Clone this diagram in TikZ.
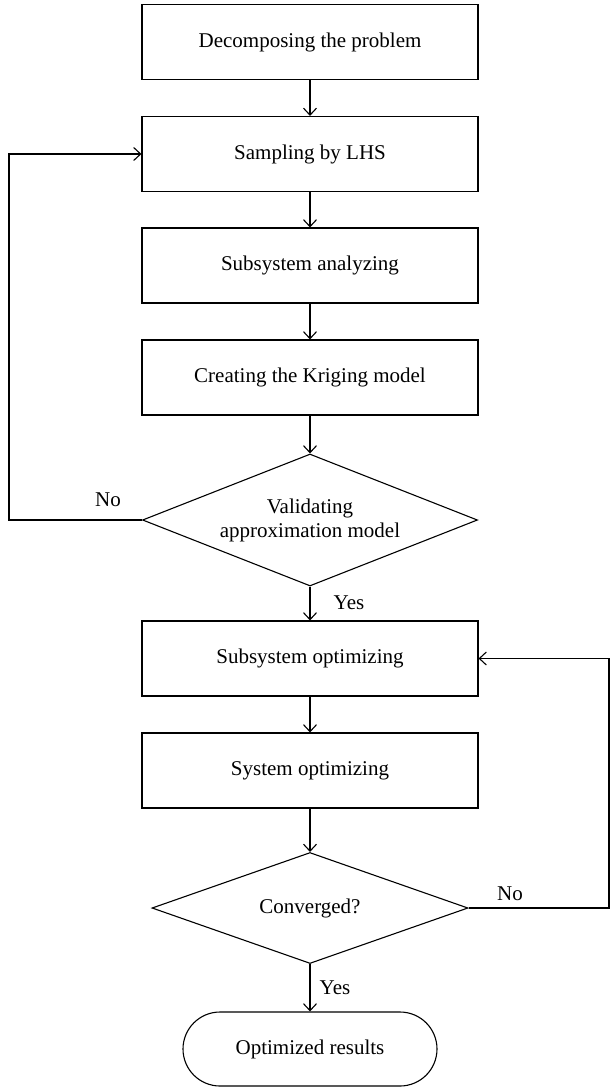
\documentclass[tikz,border=0pt]{standalone}
\usepackage{fontspec}
\setmainfont{Liberation Serif}
\usetikzlibrary{shapes.geometric,shapes.misc,arrows.meta}

\tikzset{
    stepbox/.style={draw, line width=1.1pt, minimum width=336pt, minimum height=75pt, inner sep=0pt},
    decide/.style={draw, diamond, line width=1.1pt, inner sep=0pt, align=center},
    finish/.style={draw, rounded rectangle, line width=1.1pt, minimum width=254pt, minimum height=74pt, inner sep=0pt},
    arr/.style={line width=1.1pt, -{Straight Barb[length=7pt,width=13pt,line width=1.1pt]}},
    lbl/.style={inner sep=0pt}
}

\begin{document}
\begin{tikzpicture}[x=1pt, y=-1pt, font=\fontsize{21}{24}\selectfont]
        \useasboundingbox (0,0) rectangle (610,1087);

        \node[stepbox] (decomp) at (310,42) {Decomposing the problem};
        \node[stepbox] (sample) at (310,154) {Sampling by LHS};
        \node[stepbox] (subana) at (310,265.5) {Subsystem analyzing};
        \node[stepbox] (krig) at (310,377.5) {Creating the Kriging model};
        \node[decide, aspect=2.54, minimum width=335pt, minimum height=132pt] (valid) at (310,520) {Validating\\approximation model};
        \node[stepbox] (subopt) at (310,658.5) {Subsystem optimizing};
        \node[stepbox] (sysopt) at (310,770.5) {System optimizing};
        \node[decide, aspect=2.85, minimum width=316pt, minimum height=111pt] (conv) at (310,908) {Converged?};
        \node[finish] (result) at (310,1049) {Optimized results};

        \coordinate (lft) at (9,154);
        \coordinate (rgt) at (609,658.5);

        % main flow
        \draw[arr] (decomp) -- (sample);
        \draw[arr] (sample) -- (subana);
        \draw[arr] (subana) -- (krig);
        \draw[arr] (krig) -- (valid);
        \draw[arr] (valid) -- (subopt);
        \draw[arr] (subopt) -- (sysopt);
        \draw[arr] (sysopt) -- (conv);
        \draw[arr] (conv) -- (result);

        % feedback loops
        \draw[arr] (valid.west) -| (lft) -- (sample.west);
        \draw[arr] (conv.east) -| (rgt) -- (subopt.east);

        \node[lbl] (no1) at (108,500) {No};
        \node[lbl] (yes1) at (349,603) {Yes};
        \node[lbl] (no2) at (510,894) {No};
        \node[lbl] (yes2) at (335,988) {Yes};
    \end{tikzpicture}
\end{document}
